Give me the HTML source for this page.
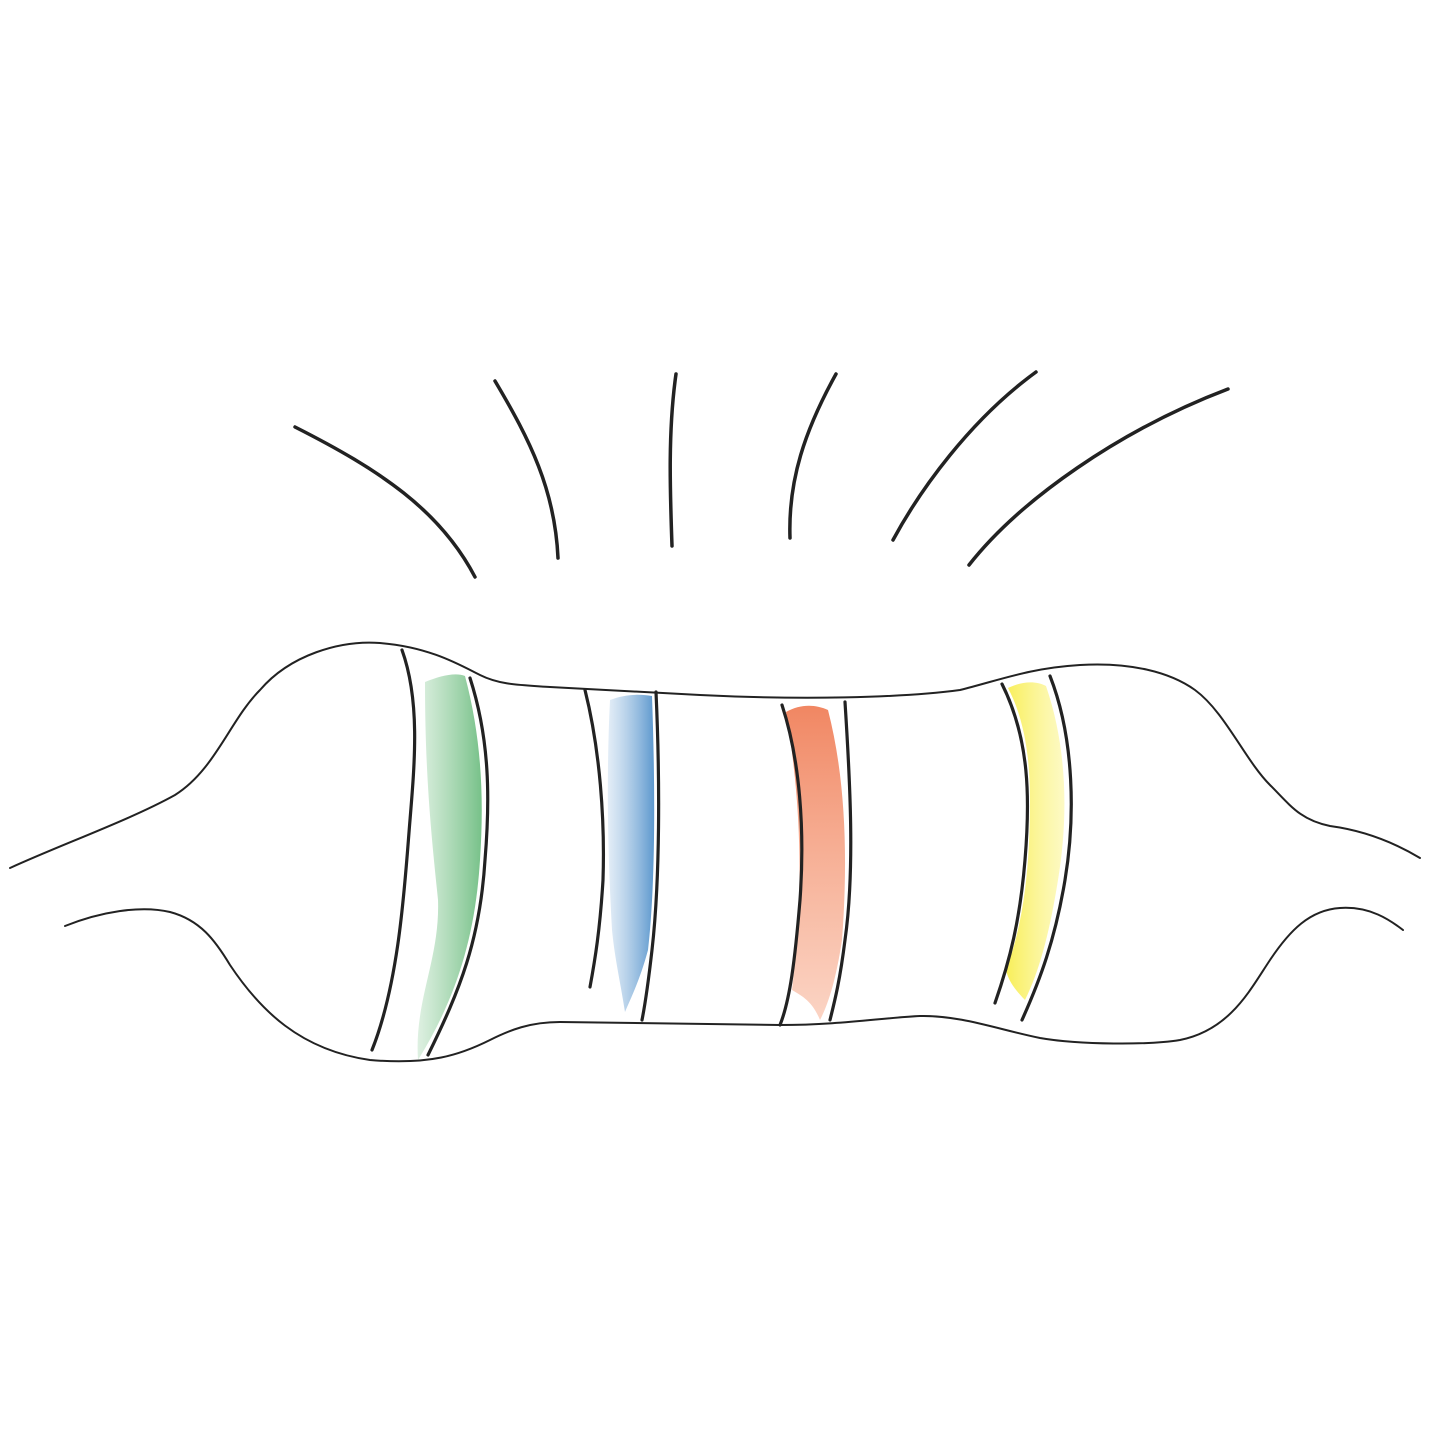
<!DOCTYPE html>
<html><head><meta charset="utf-8"><style>
html,body{margin:0;padding:0;background:#fff;}
svg{display:block;}
</style></head><body>
<svg width="1433" height="1433" viewBox="0 0 1433 1433" xmlns="http://www.w3.org/2000/svg">
<defs>
<linearGradient id="gG" x1="0" y1="0" x2="1" y2="0"><stop offset="0" stop-color="#7cc48a" stop-opacity="0.25"/><stop offset="1" stop-color="#5fb674" stop-opacity="0.85"/></linearGradient>
<linearGradient id="gB" x1="0" y1="0" x2="1" y2="0"><stop offset="0" stop-color="#8fb8de" stop-opacity="0.25"/><stop offset="1" stop-color="#4a8cc8" stop-opacity="0.9"/></linearGradient>
<linearGradient id="gO" x1="0" y1="0" x2="0" y2="1"><stop offset="0" stop-color="#f0805a" stop-opacity="0.95"/><stop offset="1" stop-color="#f7a888" stop-opacity="0.5"/></linearGradient>
<linearGradient id="gY" x1="0" y1="0" x2="1" y2="0"><stop offset="0" stop-color="#f8ee50" stop-opacity="0.95"/><stop offset="1" stop-color="#fbf48a" stop-opacity="0.5"/></linearGradient>
</defs>
<g>
<path fill="url(#gG)" d="M425,682 C440,676 455,672 465,676 C482,740 484,800 480,860 C475,940 455,1000 418,1060 C414,1000 440,960 438,900 C432,840 425,780 425,682 Z"/>
<path fill="url(#gB)" d="M610,700 C625,694 640,694 652,696 C655,780 656,880 648,950 C640,980 630,1000 625,1012 C620,980 615,960 612,930 C608,860 606,780 610,700 Z"/>
<path fill="url(#gO)" d="M786,712 C800,704 815,704 828,710 C846,780 848,860 842,940 C836,980 828,1005 820,1020 C812,1000 800,995 792,990 C800,920 806,830 786,712 Z"/>
<path fill="url(#gY)" d="M1008,688 C1020,682 1035,680 1046,686 C1068,750 1068,820 1058,880 C1050,930 1040,970 1025,1000 C1015,990 1008,980 1006,970 C1025,920 1030,860 1030,800 C1030,760 1025,720 1008,688 Z"/>
</g>
<g fill="none" stroke="#222" stroke-linecap="round">
<path stroke-width="2" d="M10,868 C60,845 130,820 175,795 C215,770 230,720 260,690 C290,655 340,640 380,643 C430,647 460,665 480,675 C500,685 520,685 550,687 L700,695 C800,700 900,698 960,690 C1000,680 1030,668 1080,665 C1130,662 1170,672 1195,690 C1225,712 1245,760 1270,785 C1290,805 1300,820 1330,826 C1360,830 1390,840 1420,858"/>
<path stroke-width="2" d="M65,926 C100,912 140,905 170,912 C200,920 215,940 230,965 C260,1010 300,1050 370,1060 C430,1065 460,1055 490,1040 C510,1030 530,1022 560,1022 L780,1025 C840,1025 880,1018 920,1016 C960,1015 1000,1030 1040,1038 C1080,1045 1150,1045 1180,1040 C1230,1030 1250,990 1270,960 C1290,930 1310,910 1340,908 C1370,906 1390,920 1403,930"/>
<g stroke-width="3.2">
<path d="M402,650 C420,700 415,760 410,820 C405,880 400,980 372,1050"/>
<path d="M470,678 C490,740 490,800 485,860 C480,940 460,990 428,1055"/>
<path d="M585,690 C600,750 605,820 603,880 C600,930 595,960 590,987"/>
<path d="M656,692 C660,780 660,880 652,950 C648,985 645,1005 642,1020"/>
<path d="M782,705 C800,760 805,830 800,900 C795,960 790,1000 780,1025"/>
<path d="M845,702 C850,780 855,870 845,940 C840,980 835,1000 830,1020"/>
<path d="M1002,684 C1030,740 1030,800 1025,860 C1020,920 1010,960 995,1003"/>
<path d="M1050,676 C1075,740 1075,820 1065,880 C1055,940 1040,980 1022,1020"/>
</g>
<g stroke-width="3.5">
<path d="M295,427 C380,470 440,510 475,577"/>
<path d="M495,381 C530,440 555,490 558,558"/>
<path d="M676,374 C668,430 670,490 672,546"/>
<path d="M836,374 C805,430 788,480 790,538"/>
<path d="M1036,372 C970,420 920,490 893,540"/>
<path d="M1228,389 C1120,430 1020,500 969,565"/>
</g>
</g>
</svg>
</body></html>
